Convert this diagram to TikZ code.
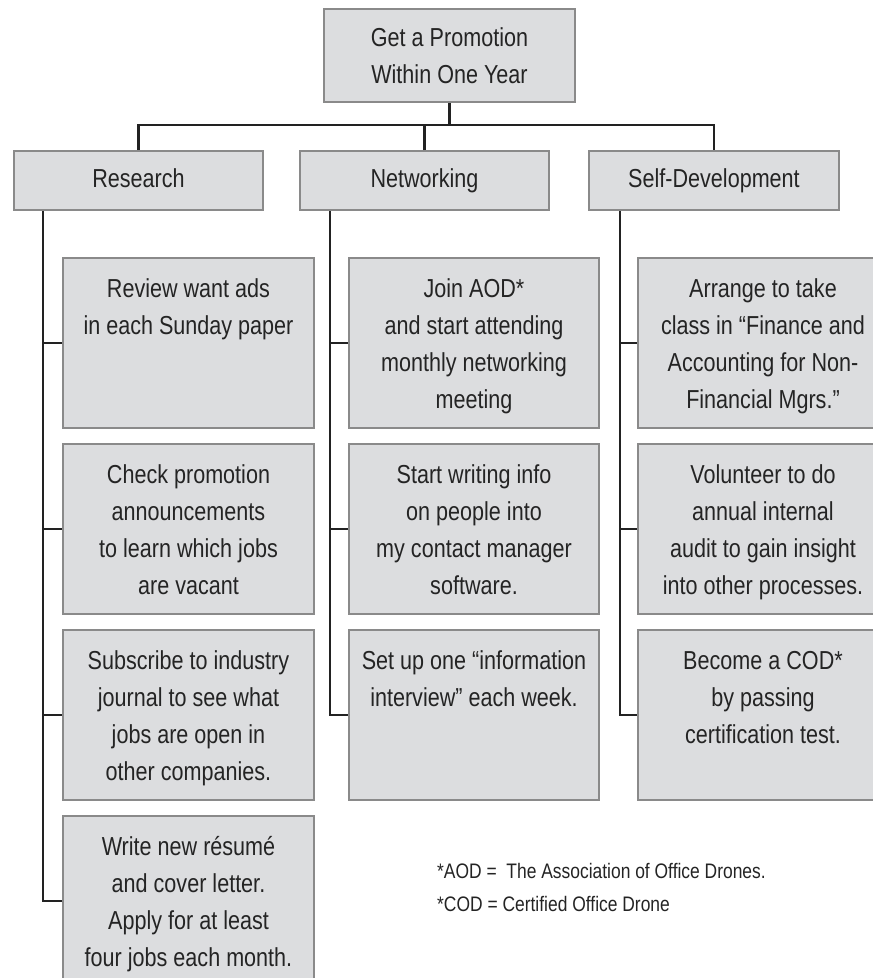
\documentclass[tikz,border=0pt]{standalone}
\usepackage{fontspec}
\setmainfont{Liberation Sans}[FakeStretch=0.83]
\usetikzlibrary{calc}

\definecolor{boxfill}{HTML}{DCDDDF}
\definecolor{boxline}{HTML}{8A8A8A}
\definecolor{wirecol}{HTML}{222222}
\definecolor{inkcol}{HTML}{242424}

% text of a task card: top-aligned, first baseline 39pt below the card edge
\newcommand{\cardbody}[1]{\parbox[c][170pt][t]{245pt}{\centering\rule{0pt}{39pt}#1}}

\begin{document}
\begin{tikzpicture}[x=1pt,y=-1pt,
  box/.style={draw=boxline, line width=2pt, fill=boxfill, text=inkcol,
              inner sep=0pt, anchor=north west,
              font=\fontsize{26}{37}\selectfont},
  headbox/.style={box, align=center, minimum height=59pt,
                  text height=19pt, text depth=6pt},
  card/.style={box, minimum width=251pt, minimum height=170pt},
  wire/.style={draw=wirecol, line width=2.4pt},
  notetext/.style={anchor=base west, inner sep=0pt, text=inkcol,
                   font=\fontsize{21}{33}\selectfont}]

\useasboundingbox (0,0) rectangle (873,978);
\clip (0,0) rectangle (873,978);

% goal
\node[box, align=center, minimum width=251pt, minimum height=93pt] (top) at (323,8)
  {Get a Promotion\\Within One Year};

% three strategies
\node[headbox, minimum width=249pt] (res) at (13,150)  {Research};
\node[headbox, minimum width=249pt] (net) at (299,150) {Networking};
\node[headbox, minimum width=250pt] (sd)  at (588,150) {Self-Development};

% research actions
\node[card] (r1) at (62,257) {\cardbody{Review want ads\\in each Sunday paper}};
\node[card] (r2) at (62,443) {\cardbody{Check promotion\\announcements\\to learn which jobs\\are vacant}};
\node[card] (r3) at (62,629) {\cardbody{Subscribe to industry\\journal to see what\\jobs are open in\\other companies.}};
\node[card] (r4) at (62,815) {\cardbody{Write new résumé\\and cover letter.\\Apply for at least\\four jobs each month.}};

% networking actions
\node[card, minimum width=250pt] (n1) at (348,257) {\cardbody{Join AOD*\\and start attending\\monthly networking\\meeting}};
\node[card, minimum width=250pt] (n2) at (348,443) {\cardbody{Start writing info\\on people into\\my contact manager\\software.}};
\node[card, minimum width=250pt] (n3) at (348,629) {\cardbody{Set up one “information\\interview” each week.}};

% self-development actions
\node[card, minimum width=250pt] (s1) at (637,257) {\cardbody{Arrange to take\\class in “Finance and\\Accounting for Non-\\Financial Mgrs.”}};
\node[card, minimum width=250pt] (s2) at (637,443) {\cardbody{Volunteer to do\\annual internal\\audit to gain insight\\into other processes.}};
\node[card, minimum width=250pt] (s3) at (637,629) {\cardbody{Become a COD*\\by passing\\certification test.}};

% goal to strategies
\coordinate (bar) at (0,125);
\draw[wire] (top.south) -- (top.south |- bar);
\draw[wire] (res.north) |- (top.south |- bar) -| (sd.north);
\draw[wire] (net.north) -- (net.north |- bar);

% strategy spines to their actions
\coordinate (rsp) at ([xshift=30pt]res.south west);
\coordinate (nsp) at ([xshift=31pt]net.south west);
\coordinate (ssp) at ([xshift=32pt]sd.south west);
\draw[wire] (rsp) |- (r4.west);
\foreach \c in {r1,r2,r3} \draw[wire] (rsp |- \c.west) -- (\c.west);
\draw[wire] (nsp) |- (n3.west);
\foreach \c in {n1,n2} \draw[wire] (nsp |- \c.west) -- (\c.west);
\draw[wire] (ssp) |- (s3.west);
\foreach \c in {s1,s2} \draw[wire] (ssp |- \c.west) -- (\c.west);

% abbreviations
\node[notetext] (aod) at (437,878) {*AOD =\ \ The Association of Office Drones.};
\node[notetext] (cod) at (437,911) {*COD = Certified Office Drone};

\end{tikzpicture}
\end{document}
